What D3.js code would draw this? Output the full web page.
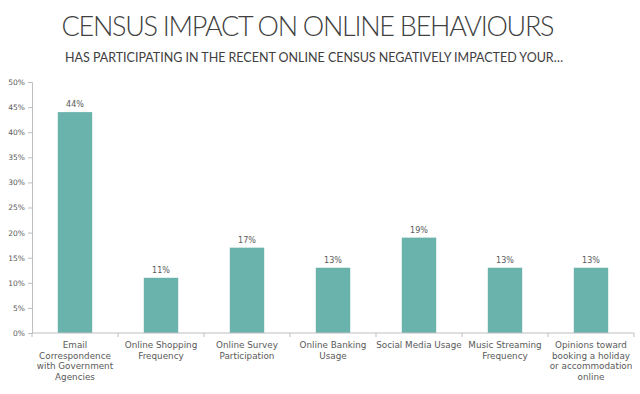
<!DOCTYPE html>
<html>
<head>
<meta charset="utf-8">
<script src="https://cdn.jsdelivr.net/npm/d3@7"></script>
<style>
	body { margin: 0; background: #fff; }
	svg { display: block; font-family: 'Lato', 'Open Sans', sans-serif; }
</style>
</head>
<body>
<div id="chart"></div>
<script>
var categories = [
	'Email Correspondence with Government Agencies',
	'Online Shopping Frequency',
	'Online Survey Participation',
	'Online Banking Usage',
	'Social Media Usage',
	'Music Streaming Frequency',
	'Opinions toward booking a holiday or accommodation online'
];
var labelLines = [
	['Email', 'Correspondence', 'with Government', 'Agencies'],
	['Online Shopping', 'Frequency'],
	['Online Survey', 'Participation'],
	['Online Banking', 'Usage'],
	['Social Media Usage'],
	['Music Streaming', 'Frequency'],
	['Opinions toward', 'booking a holiday', 'or accommodation', 'online']
];
var values = [0.44, 0.11, 0.17, 0.13, 0.19, 0.13, 0.13];
var yTicks = [0, 0.05, 0.10, 0.15, 0.20, 0.25, 0.30, 0.35, 0.40, 0.45, 0.50];

// chart init
drawChart();

function drawChart() {
	var width = 640;
	var height = 394;
	var margin = { top: 82, right: 6, bottom: 61, left: 32 };
	var barColor = '#6ab2ac';
	var axisColor = '#bfbfbf';
	var textColor = '#595959';
	var labelFont = "'DejaVu Sans', sans-serif";

	var svg = d3.select('#chart')
		.append('svg')
		.attr('width', width)
		.attr('height', height);

	svg.append('text')
		.attr('x', 308)
		.attr('y', 36)
		.attr('text-anchor', 'middle')
		.attr('fill', '#404040')
		.attr('font-size', 27)
		.attr('font-weight', 300)
		.attr('textLength', 493)
		.text('CENSUS IMPACT ON ONLINE BEHAVIOURS');

	svg.append('text')
		.attr('x', 314)
		.attr('y', 62)
		.attr('text-anchor', 'middle')
		.attr('fill', '#404040')
		.attr('font-size', 12.5)
		.attr('textLength', 498)
		.text('HAS PARTICIPATING IN THE RECENT ONLINE CENSUS NEGATIVELY IMPACTED YOUR\u2026');

	var xScale = d3.scaleBand()
		.domain(categories)
		.range([margin.left, width - margin.right]);

	var yScale = d3.scaleLinear()
		.domain([0, 0.5])
		.range([height - margin.bottom, margin.top]);

	var yAxis = svg.append('g')
		.attr('transform', 'translate(' + margin.left + ',0)')
		.call(d3.axisLeft(yScale).tickValues(yTicks).tickFormat(d3.format('.0%')).tickSize(4).tickPadding(3));

	yAxis.select('.domain').attr('stroke', axisColor);
	yAxis.selectAll('.tick line').attr('stroke', axisColor);
	yAxis.selectAll('.tick text')
		.attr('fill', textColor)
		.attr('font-size', 7.5)
		.attr('font-family', labelFont);

	var barWidth = xScale.bandwidth() * 0.4;

	svg.selectAll('.bar')
		.data(values)
		.enter()
		.append('rect')
		.attr('class', 'bar')
		.attr('fill', barColor)
		.attr('x', function(d, i) {
			return xScale(categories[i]) + (xScale.bandwidth() - barWidth) / 2;
		})
		.attr('y', function(d) {
			return yScale(d);
		})
		.attr('width', barWidth)
		.attr('height', function(d) {
			return yScale(0) - yScale(d);
		});

	svg.selectAll('.value')
		.data(values)
		.enter()
		.append('text')
		.attr('class', 'value')
		.attr('fill', textColor)
		.attr('font-size', 8)
		.attr('font-family', labelFont)
		.attr('text-anchor', 'middle')
		.attr('x', function(d, i) {
			return xScale(categories[i]) + xScale.bandwidth() / 2;
		})
		.attr('y', function(d) {
			return yScale(d) - 5;
		})
		.text(d3.format('.0%'));

	// x axis with boundary ticks
	var x0 = yScale(0);
	var xAxis = svg.append('g');

	xAxis.append('line')
		.attr('x1', margin.left)
		.attr('x2', width - margin.right)
		.attr('y1', x0)
		.attr('y2', x0)
		.attr('stroke', axisColor);

	xAxis.selectAll('.xtick')
		.data(categories.concat(['end']))
		.enter()
		.append('line')
		.attr('class', 'xtick')
		.attr('x1', function(d, i) {
			return margin.left + i * xScale.step();
		})
		.attr('x2', function(d, i) {
			return margin.left + i * xScale.step();
		})
		.attr('y1', x0)
		.attr('y2', x0 + 4)
		.attr('stroke', axisColor);

	var labels = svg.selectAll('.cat')
		.data(categories)
		.enter()
		.append('text')
		.attr('class', 'cat')
		.attr('fill', textColor)
		.attr('font-size', 8.8)
		.attr('font-family', labelFont)
		.attr('text-anchor', 'middle');

	labels.each(function(d, i) {
		var cx = xScale(d) + xScale.bandwidth() / 2;
		d3.select(this).selectAll('tspan')
			.data(labelLines[i])
			.enter()
			.append('tspan')
			.attr('x', cx)
			.attr('y', function(t, j) {
				return x0 + 15 + j * 10.7;
			})
			.text(function(t) {
				return t;
			});
	});
}
</script>
</body>
</html>
